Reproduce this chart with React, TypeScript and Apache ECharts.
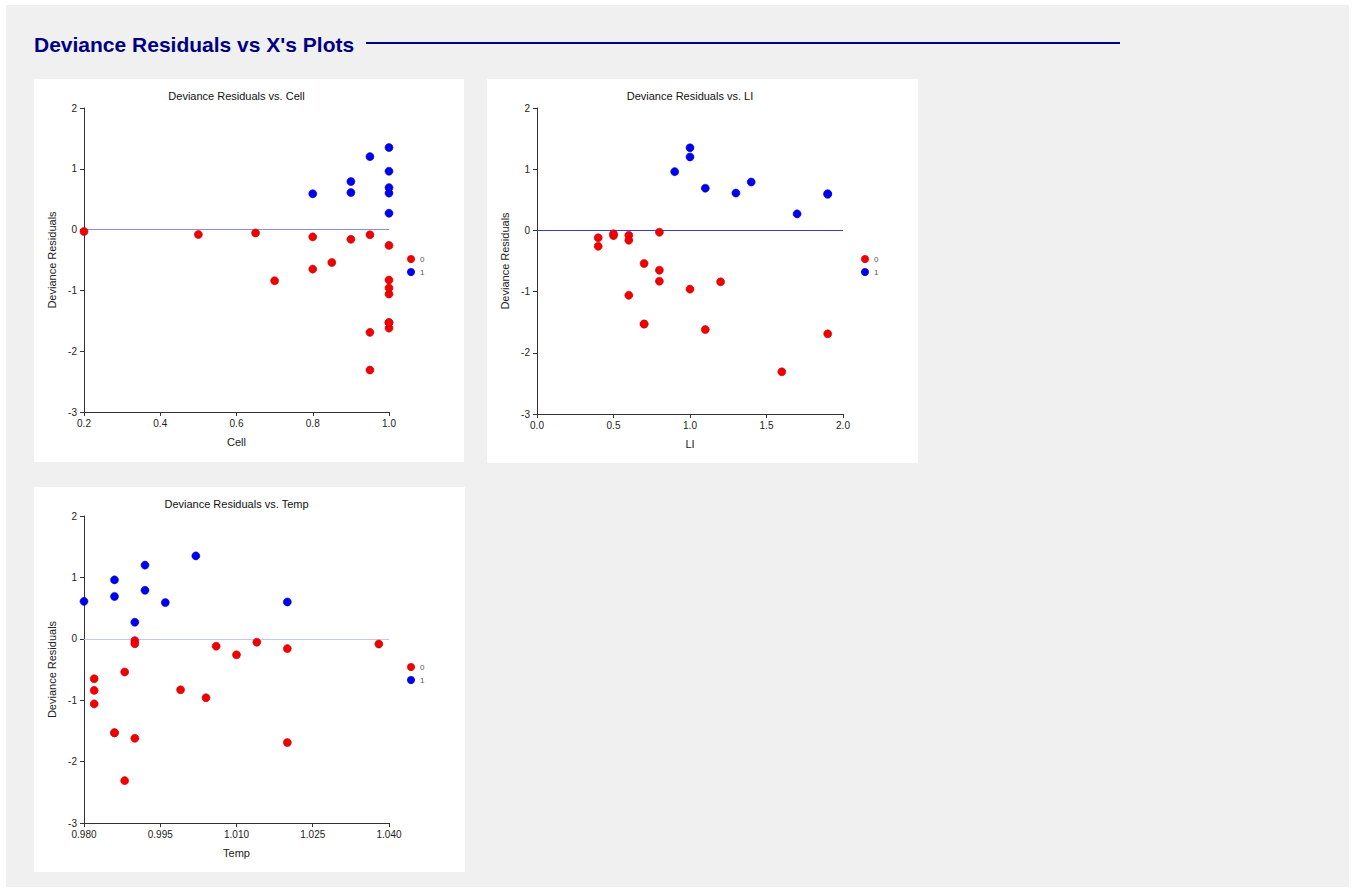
import { useEffect, useRef } from "react";
import * as echarts from "echarts";

// Leukemia remission data: predictors and the fitted model's deviance residuals
const remiss = [1, 1, 0, 0, 1, 0, 1, 0, 0, 0, 0, 0, 0, 0, 0, 1, 0, 0, 0, 1, 0, 0, 1, 0, 1, 1, 0];
const cell = [0.8, 0.9, 0.8, 1, 0.9, 1, 0.95, 0.95, 1, 0.95, 0.85, 0.7, 0.8, 0.2, 1, 1, 0.65, 1, 0.5, 1, 1, 0.9, 1, 0.95, 1, 1, 1];
const li = [1.9, 1.4, 0.8, 0.7, 1.3, 0.6, 1.0, 1.9, 0.8, 0.5, 0.7, 1.2, 0.4, 0.8, 1.1, 1.9, 0.5, 1.0, 0.6, 1.1, 0.4, 0.6, 1.0, 1.6, 1.7, 0.9, 0.7];
const temp = [0.996, 0.992, 0.982, 0.986, 0.98, 0.982, 0.992, 1.02, 0.999, 1.038, 0.988, 0.982, 1.006, 0.99, 0.99, 1.02, 1.014, 1.004, 0.99, 0.986, 1.01, 1.02, 1.002, 0.988, 0.99, 0.986, 0.986];
const devianceResidual = [0.59, 0.79, -0.65, -1.53, 0.61, -1.06, 1.2, -1.69, -0.83, -0.085, -0.54, -0.84, -0.12, -0.03, -1.62, 0.6, -0.055, -0.96, -0.08, 0.69, -0.26, -0.16, 1.35, -2.31, 0.27, 0.96, -1.53];

const groupNames = ["0", "1"];
const yTicks = [-3, -2, -1, 0, 1, 2];
const cellTicks = [0.2, 0.4, 0.6, 0.8, 1.0];
const liTicks = [0.0, 0.5, 1.0, 1.5, 2.0];
const tempTicks = [0.98, 0.995, 1.01, 1.025, 1.04];

const FONT = "'Liberation Sans', Arial, Helvetica, sans-serif";
const RED = "#f00000";
const BLUE = "#0000f0";
const AXIS = "#333333";

type Panel = {
  name: string;
  x: number[];
  ticks: number[];
  digits: number;
  box: [number, number, number, number]; // white panel: left, top, right, bottom
  grid: { left: number; top: number; width: number; height: number };
  zeroColor: string;
  legendTop: number;
};

const panels: Panel[] = [
  { name: "Cell", x: cell, ticks: cellTicks, digits: 1, box: [34, 79, 464, 462], grid: { left: 84, top: 108, width: 305, height: 304 }, zeroColor: "#8a8aec", legendTop: 255 },
  { name: "LI", x: li, ticks: liTicks, digits: 1, box: [487, 79, 918, 463], grid: { left: 537, top: 108, width: 306, height: 306 }, zeroColor: "#3a3ac8", legendTop: 255 },
  { name: "Temp", x: temp, ticks: tempTicks, digits: 3, box: [34, 487, 465, 872], grid: { left: 84, top: 516, width: 305, height: 307 }, zeroColor: "#c6c6f2", legendTop: 663 },
];

export default function App() {
  const ref = useRef<HTMLDivElement>(null);

  useEffect(() => {
    if (!ref.current) return;
    const chart = echarts.init(ref.current, null, { renderer: "svg" });

    const graphic: any[] = [
      { type: "rect", shape: { x: 6, y: 5, width: 1343, height: 882 }, style: { fill: "#f0f0f0" }, z: -10 },
      {
        type: "text",
        x: 34,
        y: 44,
        style: { text: "Deviance Residuals vs X's Plots", font: `bold 21px ${FONT}`, fill: "#000080", verticalAlign: "middle" },
      },
      { type: "line", shape: { x1: 366, y1: 43, x2: 1120, y2: 43 }, style: { stroke: "#000080", lineWidth: 2 } },
    ];

    const grid: any[] = [];
    const xAxis: any[] = [];
    const yAxis: any[] = [];
    const series: any[] = [];
    const legend: any[] = [];

    panels.forEach((p, i) => {
      const [l, t, r, b] = p.box;
      graphic.push({ type: "rect", shape: { x: l, y: t, width: r - l, height: b - t }, style: { fill: "#ffffff" }, z: -5 });
      graphic.push({
        type: "text",
        x: p.grid.left + p.grid.width / 2,
        y: t + 17,
        style: { text: `Deviance Residuals vs. ${p.name}`, font: `11px ${FONT}`, fill: "#111", align: "center", verticalAlign: "middle" },
      });

      grid.push({ ...p.grid, containLabel: false });

      const lo = p.ticks[0];
      const hi = p.ticks[p.ticks.length - 1];
      xAxis.push({
        type: "value",
        gridIndex: i,
        min: lo,
        max: hi,
        name: p.name,
        nameLocation: "middle",
        nameGap: 24,
        nameTextStyle: { fontFamily: FONT, fontSize: 11, color: "#222" },
        axisLine: { show: true, onZero: false, lineStyle: { color: AXIS, width: 1 } },
        axisTick: { show: true, length: 4, lineStyle: { color: AXIS }, customValues: p.ticks },
        axisLabel: {
          fontFamily: FONT,
          fontSize: 10,
          color: "#222",
          margin: 6,
          customValues: p.ticks,
          formatter: (v: number) => v.toFixed(p.digits),
        },
        splitLine: { show: false },
      });
      yAxis.push({
        type: "value",
        gridIndex: i,
        min: -3,
        max: 2,
        interval: 1,
        name: "Deviance Residuals",
        nameLocation: "middle",
        nameGap: 27,
        nameTextStyle: { fontFamily: FONT, fontSize: 11, color: "#222" },
        axisLine: { show: true, lineStyle: { color: AXIS, width: 1 } },
        axisTick: { show: true, length: 4, lineStyle: { color: AXIS }, customValues: yTicks },
        axisLabel: { fontFamily: FONT, fontSize: 10, color: "#222", margin: 7, customValues: yTicks },
        splitLine: { show: false },
      });

      groupNames.forEach((g, k) => {
        const pts: number[][] = [];
        remiss.forEach((rm, j) => {
          if (String(rm) === g) pts.push([p.x[j], devianceResidual[j]]);
        });
        const color = k === 0 ? RED : BLUE;
        series.push({
          type: "scatter",
          name: g,
          xAxisIndex: i,
          yAxisIndex: i,
          symbol: "circle",
          symbolSize: 8,
          itemStyle: { color, opacity: 1, borderColor: k === 0 ? "#c80000" : "#0000c0", borderWidth: 0.6 },
          data: pts,
          z: 3,
          markLine:
            k === 0
              ? {
                  silent: true,
                  symbol: "none",
                  label: { show: false },
                  lineStyle: { color: p.zeroColor, width: 1, type: "solid", opacity: 1 },
                  data: [{ yAxis: 0 }],
                  z: 1,
                }
              : undefined,
        });
      });

      legend.push({
        left: p.grid.left + p.grid.width + 18,
        top: p.legendTop,
        padding: 0,
        orient: "vertical",
        icon: "circle",
        itemWidth: 8,
        itemHeight: 8,
        itemGap: 5,
        selectedMode: false,
        itemStyle: { borderWidth: 0 },
        textStyle: { fontFamily: FONT, fontSize: 8, color: "#555", padding: [0, 0, 0, 0] },
        data: groupNames,
      });
    });

    chart.setOption({
      animation: false,
      backgroundColor: "#ffffff",
      graphic,
      grid,
      xAxis,
      yAxis,
      series,
      legend,
    });

    return () => chart.dispose();
  }, []);

  return <div ref={ref} style={{ position: "absolute", left: 0, top: 0, width: 1356, height: 892 }} />;
}
